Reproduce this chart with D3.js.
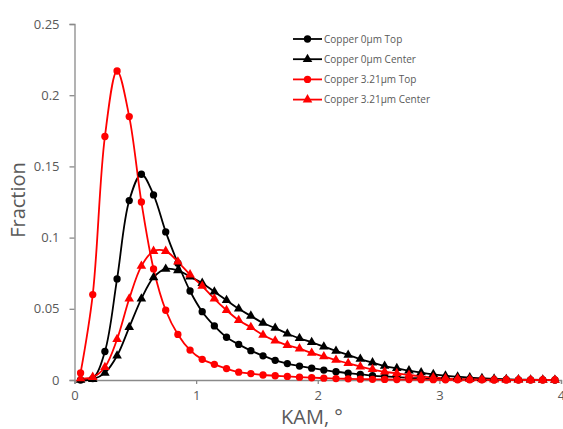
<!DOCTYPE html>
<html><head><meta charset="utf-8">
<script src="https://cdn.jsdelivr.net/npm/d3@7"></script>
<style>body{margin:0;background:#fff}svg{display:block}</style>
</head><body>
<svg id="c" width="563" height="429"></svg>
<script>
const kam = d3.range(40).map(i => +(0.05 + 0.1 * i).toFixed(2));
const copper0Top = [0.0,0.001,0.020,0.071,0.126,0.1445,0.130,0.104,0.082,0.0625,0.048,0.038,0.030,0.025,0.0206,0.017,0.0138,0.0115,0.0098,0.0083,0.007,0.0058,0.0048,0.0039,0.0031,0.0025,0.002,0.0015,0.0012,0.0009,0.0007,0.0005,0.0004,0.0003,0.0002,0.0002,0.0001,0.0001,0.0001,0];
const copper0Center = [0,0.0005,0.005,0.017,0.037,0.057,0.072,0.078,0.077,0.0726,0.068,0.062,0.056,0.050,0.045,0.040,0.0365,0.0325,0.0293,0.0265,0.0234,0.0204,0.0176,0.0147,0.0122,0.0098,0.0082,0.0066,0.0052,0.004,0.003,0.0023,0.0017,0.0012,0.0008,0.0005,0.0003,0.0002,0.0001,0];
const copper321Top = [0.005,0.060,0.171,0.217,0.185,0.125,0.078,0.049,0.032,0.021,0.0145,0.011,0.008,0.0055,0.0045,0.0035,0.003,0.0025,0.002,0.0016,0.0013,0.001,0.0008,0.0006,0.0005,0.0004,0.0003,0.0003,0.0002,0.0002,0.0001,0.0001,0.0001,0.0001,0,0,0,0,0,0];
const copper321Center = [0.001,0.002,0.009,0.0286,0.057,0.080,0.0905,0.0905,0.083,0.074,0.066,0.057,0.049,0.042,0.037,0.0316,0.0275,0.0245,0.022,0.019,0.0165,0.014,0.0117,0.0094,0.0075,0.0058,0.0047,0.0035,0.0025,0.0018,0.0012,0.0008,0.0005,0.0003,0.0002,0.0001,0.0001,0,0,0];
const seriesNames = ["Copper 0µm Top","Copper 0µm Center","Copper 3.21µm Top","Copper 3.21µm Center"];
const xTicks = [0,1,2,3,4];
const yTicks = [0,0.05,0.1,0.15,0.2,0.25];

const series = [
  {name: seriesNames[0], values: copper0Top, color: "#000000", shape: "circle"},
  {name: seriesNames[1], values: copper0Center, color: "#000000", shape: "triangle"},
  {name: seriesNames[2], values: copper321Top, color: "#ff0000", shape: "circle"},
  {name: seriesNames[3], values: copper321Center, color: "#ff0000", shape: "triangle"}
];

const svg = d3.select("#c");
const x = d3.scaleLinear().domain([0,4]).range([74.5,561]);
const y = d3.scaleLinear().domain([0,0.25]).range([380,24]);
const font = "'Open Sans', sans-serif";
const axisColor = "#8a8a8a", textColor = "#595959";

// axes
const gx = svg.append("g").attr("transform","translate(0,380)")
  .call(d3.axisBottom(x).tickValues(xTicks).tickSize(4).tickPadding(7).tickFormat(d3.format("d")));
const gy = svg.append("g").attr("transform","translate(74.5,0)")
  .call(d3.axisLeft(y).tickValues(yTicks).tickSize(5).tickPadding(10).tickFormat(d => d === 0 ? "0" : String(d)));
[gx, gy].forEach(g => {
  g.selectAll("path").attr("stroke", axisColor).attr("stroke-width", 1.3);
  g.selectAll("line").attr("stroke", axisColor).attr("stroke-width", 1.3);
  g.selectAll("text").attr("fill", textColor).style("font-family", font).style("font-size","13px");
});

// lines
const line = d3.line().x((d,i) => x(kam[i])).y(d => y(d)).curve(d3.curveCatmullRom.alpha(0.5));
const sym = {circle: d3.symbol().type(d3.symbolCircle).size(42), triangle: d3.symbol().type(d3.symbolTriangle).size(40)};

series.forEach(s => {
  svg.append("path").datum(s.values).attr("d", line)
    .attr("fill","none").attr("stroke", s.color).attr("stroke-width", 1.8);
});
series.forEach(s => {
  svg.append("g").selectAll("path").data(s.values).join("path")
    .attr("transform", (d,i) => `translate(${x(kam[i])},${y(d)})`)
    .attr("d", sym[s.shape]()).attr("fill", s.color);
});

// axis titles
svg.append("text").attr("x", 312).attr("y", 424).attr("text-anchor","middle")
  .attr("fill", textColor).style("font-family", font).style("font-size","20px").text("KAM, °");
svg.append("text").attr("transform","translate(25,200) rotate(-90)").attr("text-anchor","middle")
  .attr("fill", textColor).style("font-family", font).style("font-size","20px").text("Fraction");

// legend
const leg = svg.append("g");
series.forEach((s, i) => {
  const yy = 39 + i * 20.2;
  leg.append("line").attr("x1", 293).attr("x2", 322).attr("y1", yy).attr("y2", yy)
    .attr("stroke", s.color).attr("stroke-width", 1.8);
  leg.append("path").attr("transform", `translate(307.5,${yy})`).attr("d", sym[s.shape]()).attr("fill", s.color);
  leg.append("text").attr("x", 324).attr("y", yy + 3.5).attr("fill", textColor)
    .style("font-family", font).style("font-size","10px").text(s.name);
});
</script>
</body></html>
